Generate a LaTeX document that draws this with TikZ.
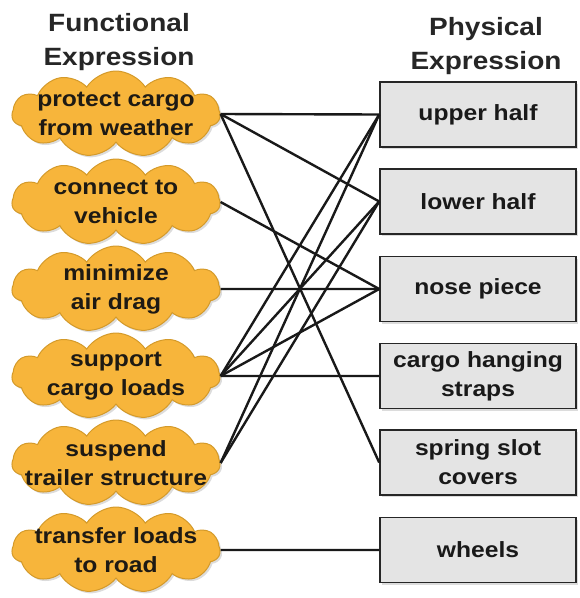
\documentclass[tikz,border=0pt]{standalone}
\usepackage{fontspec}
\setmainfont[FakeStretch=1.12]{Liberation Sans}
\usetikzlibrary{shapes.symbols,shadows}
\definecolor{cloudfill}{HTML}{F7B53B}
\definecolor{cloudline}{HTML}{D49A2A}
\definecolor{boxfill}{HTML}{E4E4E4}
\definecolor{inkc}{HTML}{1E1A14}
\tikzset{
  func/.style={cloud, cloud puffs=11, cloud puff arc=115, cloud ignores aspect,
    minimum width=208pt, minimum height=86pt, inner sep=0pt,
    fill=cloudfill, draw=cloudline, line width=1pt,
    drop shadow={shadow xshift=2pt, shadow yshift=-2pt, fill=gray!55}},
  ftext/.style={align=center, text=inkc, inner sep=0pt,
    font=\bfseries\fontsize{22}{29}\selectfont},
  phys/.style={rectangle, minimum width=196pt, minimum height=65pt, inner sep=0pt,
    fill=boxfill, draw=black!85, line width=1.6pt, align=center, text=black!90,
    font=\bfseries\fontsize{22}{29}\selectfont,
    drop shadow={shadow xshift=2pt, shadow yshift=-2pt, fill=gray!55}},
  link/.style={draw=black!90, line width=2.4pt},
  heading/.style={align=center, text=black!85, font=\bfseries\fontsize{25}{34}\selectfont}
}
\begin{document}
\begin{tikzpicture}[x=1pt,y=-1pt]
\useasboundingbox (0,0) rectangle (580,598);
\node[heading] (ft) at (119,42) {Functional\\Expression};
\node[heading] (pt) at (486,46) {Physical\\Expression};

\node[func, label={[ftext]center:{protect cargo\\from weather}}] (protect)  at (116,114) {};
\node[func, label={[ftext]center:{connect to\\vehicle}}]         (connect)  at (116,202) {};
\node[func, label={[ftext]center:{minimize\\air drag}}]          (minimize) at (116,289) {};
\node[func, label={[ftext]center:{support\\cargo loads}}]        (support)  at (116,376) {};
\node[func, label={[ftext]center:{suspend\\trailer structure}}]  (suspend)  at (116,463) {};
\node[func, label={[ftext]center:{transfer loads\\to road}}]     (transfer) at (116,550) {};

\node[phys] (upper)  at (478,114.5) {upper half};
\node[phys] (lower)  at (478,201.5) {lower half};
\node[phys] (nose)   at (478,289)   {nose piece};
\node[phys] (straps) at (478,376)   {cargo hanging\\straps};
\node[phys] (spring) at (478,462.5) {spring slot\\covers};
\node[phys] (wheels) at (478,550)   {wheels};

\draw[link] (protect.east) -- (upper.west);
\draw[link] (protect.east) -- (lower.west);
\draw[link] (protect.east) -- (spring.west);
\draw[link] (connect.east) -- (nose.west);
\draw[link] (minimize.east) -- (nose.west);
\draw[link] (support.east) -- (upper.west);
\draw[link] (support.east) -- (lower.west);
\draw[link] (support.east) -- (nose.west);
\draw[link] (support.east) -- (straps.west);
\draw[link] (suspend.east) -- (upper.west);
\draw[link] (suspend.east) -- (lower.west);
\draw[link] (transfer.east) -- (wheels.west);
\end{tikzpicture}
\end{document}
